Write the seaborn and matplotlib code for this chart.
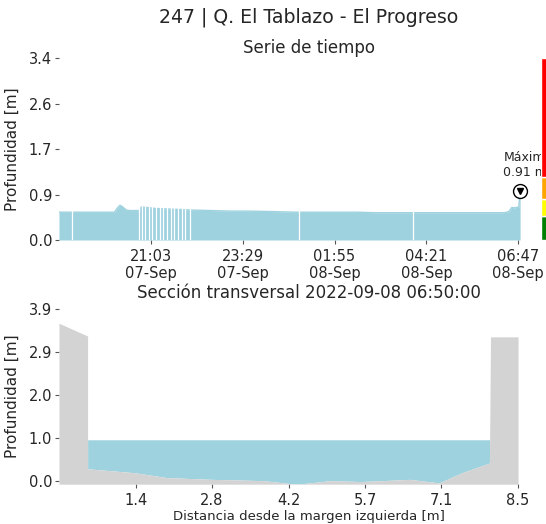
import numpy as np
import pandas as pd
import matplotlib
matplotlib.use("Agg")
import matplotlib.pyplot as plt
import seaborn as sns

# serie de tiempo: profundidad [m]
tiempos = [
    "2022-09-07 18:37", "2022-09-07 18:50", "2022-09-07 19:10", "2022-09-07 19:30",
    "2022-09-07 19:50", "2022-09-07 20:05", "2022-09-07 20:10", "2022-09-07 20:14",
    "2022-09-07 20:18", "2022-09-07 20:24", "2022-09-07 20:30", "2022-09-07 20:45",
    "2022-09-07 20:48", "2022-09-07 20:55", "2022-09-07 21:10", "2022-09-07 21:30",
    "2022-09-07 21:50", "2022-09-07 22:08", "2022-09-07 22:40", "2022-09-07 23:10",
    "2022-09-07 23:40", "2022-09-08 00:20", "2022-09-08 00:55", "2022-09-08 01:30",
    "2022-09-08 02:00", "2022-09-08 02:30", "2022-09-08 03:00", "2022-09-08 03:30",
    "2022-09-08 04:00", "2022-09-08 04:30", "2022-09-08 05:00", "2022-09-08 05:30",
    "2022-09-08 06:00", "2022-09-08 06:25", "2022-09-08 06:32", "2022-09-08 06:37",
    "2022-09-08 06:40", "2022-09-08 06:45", "2022-09-08 06:48", "2022-09-08 06:50",
]
profundidad = [
    0.52, 0.52, 0.52, 0.52, 0.52, 0.52, 0.60, 0.65,
    0.62, 0.56, 0.55, 0.55, 0.62, 0.61, 0.59, 0.58,
    0.57, 0.56, 0.55, 0.54, 0.54, 0.53, 0.52, 0.52,
    0.52, 0.52, 0.51, 0.51, 0.51, 0.51, 0.51, 0.51,
    0.51, 0.51, 0.53, 0.61, 0.60, 0.61, 0.62, 0.91,
]
# registros faltantes
huecos = [
    "2022-09-07 18:58", "2022-09-07 20:45", "2022-09-07 20:49", "2022-09-07 20:54",
    "2022-09-07 21:00", "2022-09-07 21:05", "2022-09-07 21:11", "2022-09-07 21:17",
    "2022-09-07 21:22", "2022-09-07 21:29", "2022-09-07 21:35", "2022-09-07 21:40",
    "2022-09-07 21:46", "2022-09-07 21:52", "2022-09-07 21:58", "2022-09-07 22:05",
    "2022-09-08 00:58", "2022-09-08 03:59",
]
ticks_tiempo = ["2022-09-07 21:03", "2022-09-07 23:29", "2022-09-08 01:55",
                "2022-09-08 04:21", "2022-09-08 06:47"]
etiquetas_tiempo = ["21:03\n07-Sep", "23:29\n07-Sep", "01:55\n08-Sep",
                    "04:21\n08-Sep", "06:47\n08-Sep"]
ticks_y_serie = [0.0, 0.85, 1.7, 2.55, 3.4]
etiquetas_y_serie = ["0.0", "0.9", "1.7", "2.6", "3.4"]

# niveles de alerta
alerta_limites = [0.0, 0.44, 0.77, 1.17, 3.4]
alerta_colores = ["green", "yellow", "orange", "red"]

# seccion transversal
distancia = [0.0, 0.53, 0.53, 1.41, 1.99, 2.83, 3.79, 4.31, 4.5, 5.02,
             5.59, 5.98, 6.49, 7.04, 7.46, 7.97, 7.99, 8.5]
cota = [3.58, 3.29, 0.27, 0.18, 0.07, 0.03, 0.0, -0.07, -0.07, 0.0,
        -0.02, 0.0, 0.03, -0.05, 0.18, 0.40, 3.27, 3.27]
nivel_agua = 0.93
ticks_dist = [1.42, 2.83, 4.25, 5.67, 7.08, 8.5]
etiquetas_dist = ["1.4", "2.8", "4.2", "5.7", "7.1", "8.5"]
ticks_y_sec = [0.0, 0.975, 1.95, 2.925, 3.9]
etiquetas_y_sec = ["0.0", "1.0", "2.0", "2.9", "3.9"]

azul = "#9ed2df"
gris = "#d3d3d3"

sns.set_style("ticks")
plt.rcParams["font.family"] = ["DejaVu Sans"]

df = pd.DataFrame({"tiempo": pd.to_datetime(tiempos), "profundidad": profundidad})

fig = plt.figure(figsize=(5.46, 5.24), dpi=100)
ax1 = fig.add_axes([0.108, 0.542, 0.916, 0.347])
ax2 = fig.add_axes([0.108, 0.076, 0.916, 0.334])

# --- serie de tiempo ---
ax1.fill_between(df["tiempo"], 0, df["profundidad"], color=azul, lw=0)
sns.lineplot(data=df, x="tiempo", y="profundidad", ax=ax1, color=azul, lw=1)
for h in pd.to_datetime(huecos):
    ax1.axvline(h, color="white", lw=0.9)

imax = df["profundidad"].idxmax()
tmax = df["tiempo"][imax]
vmax = df["profundidad"][imax]
ax1.plot(tmax, vmax, "o", ms=10, mfc="white", mec="black", mew=1, zorder=5)
ax1.plot(tmax, vmax, "v", ms=5, color="black", zorder=6)
ax1.annotate(f"Máximo\n{vmax:.2f} m", (tmax, vmax), xytext=(-12, 9),
             textcoords="offset points", ha="left", va="bottom", fontsize=9,
             annotation_clip=False)

ax1.set_xlim(pd.Timestamp("2022-09-07 18:37"), pd.Timestamp("2022-09-08 07:52"))
ax1.set_ylim(0, 3.4)
ax1.set_xticks(pd.to_datetime(ticks_tiempo))
ax1.set_xticklabels(etiquetas_tiempo)
ax1.set_yticks(ticks_y_serie)
ax1.set_yticklabels(etiquetas_y_serie)
ax1.set_xlabel("")
ax1.set_ylabel("Profundidad [m]", fontsize=11, labelpad=6)
ax1.set_title("Serie de tiempo", fontsize=12, pad=4)
ax1.tick_params(labelsize=10.5, length=3, color="#555555")
ax1.tick_params(axis="y", pad=2)
sns.despine(ax=ax1, left=True, bottom=True)

# barra de alertas
axa = fig.add_axes([541 / 546, 0.542, 0.03, 0.347])
alturas = np.diff(alerta_limites)
axa.bar(0, alturas, bottom=alerta_limites[:-1], color=alerta_colores, width=1)
axa.set_xlim(-0.5, 0.5)
axa.set_ylim(0, 3.4)
axa.axis("off")

# --- seccion transversal ---
fondo = -0.08
d = np.array(distancia)
c = np.array(cota)
ax2.fill_between(d, c, nivel_agua, where=c < nivel_agua, interpolate=True,
                 color=azul, lw=0)
ax2.fill_between(d, fondo, c, color=gris, lw=0)
ax2.set_xlim(0, 9.26)
ax2.set_ylim(fondo, 3.9)
ax2.set_xticks(ticks_dist)
ax2.set_xticklabels(etiquetas_dist)
ax2.set_yticks(ticks_y_sec)
ax2.set_yticklabels(etiquetas_y_sec)
ax2.set_xlabel("Distancia desde la margen izquierda [m]", fontsize=9.5, labelpad=1)
ax2.set_ylabel("Profundidad [m]", fontsize=11, labelpad=6)
ax2.set_title("Sección transversal 2022-09-08 06:50:00", fontsize=12, pad=8)
ax2.tick_params(labelsize=10.5, length=3, color="#555555")
ax2.tick_params(axis="y", pad=2)
sns.despine(ax=ax2, left=True, bottom=True)

fig.suptitle("247 | Q. El Tablazo - El Progreso", fontsize=13.6, x=0.566, y=0.985)

fig.savefig("out.png", dpi=100)
